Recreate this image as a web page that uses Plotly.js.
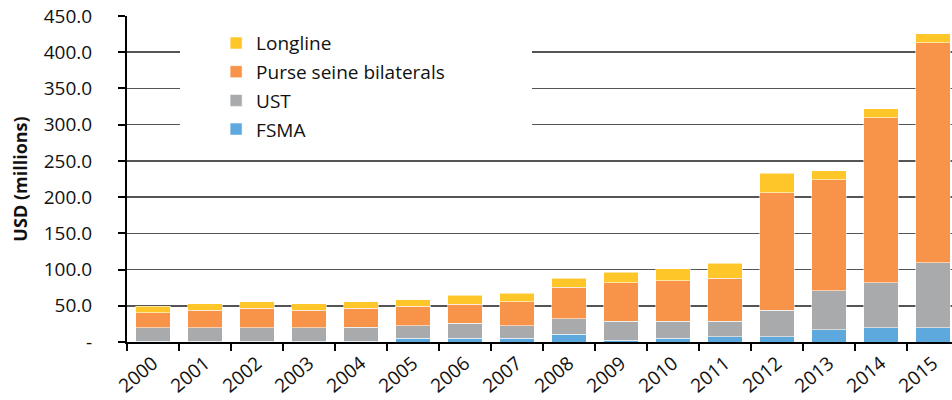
<!DOCTYPE html>
<html>
<head>
<meta charset="utf-8">
<script src="https://cdn.plot.ly/plotly-3.0.1.min.js"></script>
<style>html,body{margin:0;padding:0;background:#fff;}#chart{width:952px;height:400px;}</style>
</head>
<body>
<div id="chart"></div>
<script>
const years = ['2000','2001','2002','2003','2004','2005','2006','2007','2008','2009','2010','2011','2012','2013','2014','2015'];
const fsma     = [1, 1, 1, 1, 1, 5, 5, 5, 11, 2.5, 5, 7.3, 7.3, 17, 19.6, 19.6];
const ust      = [18.6, 18.6, 18.6, 18.6, 19.1, 17.5, 20.6, 17.4, 21, 26.3, 23.8, 21.5, 36.2, 53.5, 62.3, 89.7];
const purse    = [21, 24, 27, 24, 26.5, 27, 26.5, 32.9, 43.9, 53.1, 55.8, 59.2, 162.8, 153.6, 227.7, 304.1];
const longline = [9, 9, 8.7, 9, 8.7, 9, 12.4, 11.9, 11.9, 14.6, 16.5, 20.4, 26.5, 12, 12.4, 11.9];
const seriesNames = ['FSMA', 'UST', 'Purse seine bilaterals', 'Longline'];
const yTickVals = [0, 50, 100, 150, 200, 250, 300, 350, 400, 450];
const yTickText = ['-', '50.0', '100.0', '150.0', '200.0', '250.0', '300.0', '350.0', '400.0', '450.0'];

const colors = ['#5DA8DC', '#A9AAAC', '#F7944A', '#FFC629'];
const values = [fsma, ust, purse, longline];
const FONT = '"Open Sans", "DejaVu Sans", sans-serif';

const traces = values.map((v, i) => ({
  type: 'bar',
  name: seriesNames[i],
  x: years,
  y: v,
  legendgroup: 'g' + i,
  legendrank: 4 - i,
  marker: {color: colors[i], line: {color: 'rgba(255,255,255,0.55)', width: 1}},
  hoverinfo: 'x+y+name'
}));

const layout = {
  width: 952,
  height: 400,
  margin: {l: 127, r: 0, t: 16, b: 58},
  paper_bgcolor: '#fff',
  plot_bgcolor: '#fff',
  barmode: 'stack',
  bargap: 0.33,
  font: {family: FONT, color: '#111', size: 18},
  showlegend: true,
  legend: {
    x: 0.108, xanchor: 'left', y: 0.975, yanchor: 'top',
    bgcolor: 'rgba(0,0,0,0)',
    traceorder: 'grouped',
    tracegroupgap: 1,
    font: {family: FONT, size: 19, color: '#111'}
  },
  shapes: [{
    type: 'rect', xref: 'paper', yref: 'paper',
    x0: (180 - 127) / 825, x1: (532 - 127) / 825,
    y0: 1 - (146 - 16) / 326, y1: 1 - (32 - 16) / 326,
    fillcolor: '#fff', line: {width: 0}, layer: 'above'
  }],
  xaxis: {
    type: 'category',
    range: [-0.5, 15.365],
    tickson: 'boundaries',
    ticks: 'outside', ticklen: 7, tickwidth: 2, tickcolor: '#000',
    ticklabelstandoff: 1,
    showline: true, linecolor: '#000', linewidth: 2,
    showgrid: false,
    tickangle: -40,
    tickfont: {family: FONT, size: 19, color: '#111'},
    fixedrange: true
  },
  yaxis: {
    range: [0, 450],
    tickvals: yTickVals,
    ticktext: yTickText,
    ticks: 'outside', ticklen: 7, tickwidth: 2, tickcolor: '#000',
    ticklabelstandoff: 22,
    showline: true, linecolor: '#000', linewidth: 2,
    showgrid: true, gridcolor: '#555', gridwidth: 1.5,
    zeroline: false,
    tickfont: {family: FONT, size: 19, color: '#111'},
    title: {text: '<b>USD (millions)</b>', font: {family: FONT, size: 18, color: '#111'}, standoff: 11},
    fixedrange: true
  }
};

Plotly.newPlot('chart', traces, layout, {displayModeBar: false, staticPlot: true});
</script>
</body>
</html>
